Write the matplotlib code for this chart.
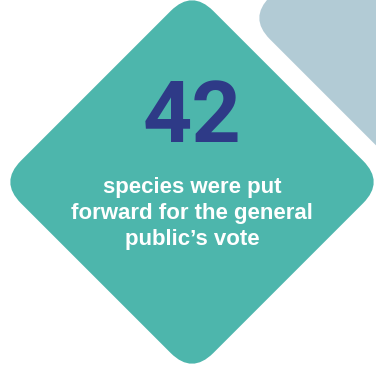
import matplotlib
matplotlib.use("Agg")
import matplotlib.pyplot as plt
from matplotlib.patches import FancyBboxPatch
from matplotlib.transforms import Affine2D

# Content
stat_value = "42"
stat_lines = ["species were put", "forward for the general", "public\u2019s vote"]

W, H = 376, 365
fig = plt.figure(figsize=(W / 100, H / 100), dpi=100)
ax = fig.add_axes([0, 0, 1, 1])
ax.set_xlim(0, W)
ax.set_ylim(H, 0)
ax.set_aspect("equal")
ax.axis("off")

def diamond(cx, cy, side, r, color):
    p = FancyBboxPatch((cx - side / 2, cy - side / 2), side, side,
                       boxstyle=f"round,pad=0,rounding_size={r}",
                       facecolor=color, edgecolor="none")
    p.set_transform(Affine2D().rotate_deg_around(cx, cy, 45) + ax.transData)
    ax.add_patch(p)

side = 272
diamond(441, 18, side, 30, "#B2CBD5")
diamond(192, 182, side, 30, "#4DB6AC")

ax.text(192, 119, stat_value, ha="center", va="center", fontsize=62,
        fontweight="bold", color="#2E3A87", family="Roboto")

ys = [187, 213, 239]
for y, line in zip(ys, stat_lines):
    ax.text(192, y, line, ha="center", va="center", fontsize=16,
            fontweight="bold", color="white", family="Liberation Sans")

fig.savefig("out.png", dpi=100, facecolor="white")
